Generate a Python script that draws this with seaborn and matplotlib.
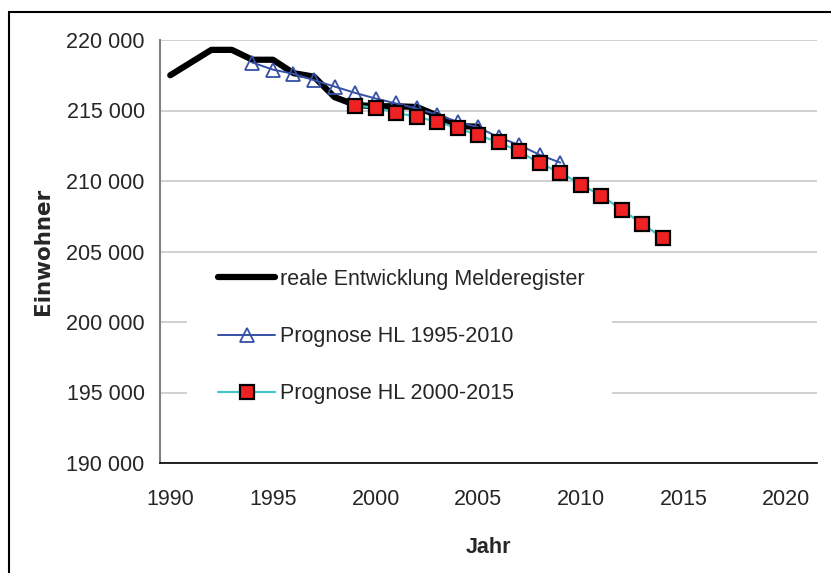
import pandas as pd
import matplotlib
matplotlib.use("Agg")
import matplotlib.pyplot as plt
import seaborn as sns
from matplotlib.patches import Rectangle

# Daten
jahre_real = [1990, 1991, 1992, 1993, 1994, 1995, 1996, 1997, 1998, 1999,
              2000, 2001, 2002, 2003, 2004, 2005]
einw_real = [217500, 218400, 219300, 219300, 218600, 218600, 217650, 217400, 215950, 215400,
             215300, 215300, 215250, 214650, 213900, 213850]

jahre_p1995 = list(range(1994, 2010))
einw_p1995 = [218400, 217900, 217600, 217150, 216700, 216250, 215850, 215500,
              215150, 214700, 214200, 213800, 213100, 212550, 211850, 211300]

jahre_p2000 = list(range(1999, 2015))
einw_p2000 = [215350, 215200, 214850, 214550, 214200, 213750, 213250, 212750,
              212100, 211250, 210600, 209750, 208950, 207950, 206950, 205950]

label_real = "reale Entwicklung Melderegister"
label_p1995 = "Prognose HL 1995-2010"
label_p2000 = "Prognose HL 2000-2015"

y_ticks = [190000, 195000, 200000, 205000, 210000, 215000, 220000]
x_labels = [1990, 1995, 2000, 2005, 2010, 2015, 2020]

df_real = pd.DataFrame({"Jahr": jahre_real, "Einwohner": einw_real})
df_p1 = pd.DataFrame({"Jahr": jahre_p1995, "Einwohner": einw_p1995})
df_p2 = pd.DataFrame({"Jahr": jahre_p2000, "Einwohner": einw_p2000})

sns.set_style("white")
plt.rcParams["font.family"] = ["Liberation Sans", "DejaVu Sans"]

fig = plt.figure(figsize=(8.31, 5.73), dpi=100)
ax = fig.add_axes([160 / 831, 1 - 463 / 573, 657 / 831, 423 / 573])

sns.lineplot(data=df_real, x="Jahr", y="Einwohner", ax=ax, color="black",
             linewidth=4.5, label=label_real, zorder=3)
sns.lineplot(data=df_p1, x="Jahr", y="Einwohner", ax=ax, color="#3550a5",
             linewidth=1.4, marker="^", markersize=10, markerfacecolor="none",
             markeredgecolor="#3550a5", markeredgewidth=1.3, label=label_p1995, zorder=4)
sns.lineplot(data=df_p2, x="Jahr", y="Einwohner", ax=ax, color="#45c6c6",
             linewidth=1.6, marker="s", markersize=10, markerfacecolor="#ee2222",
             markeredgecolor="black", markeredgewidth=1.6, label=label_p2000, zorder=5)

ax.set_xlim(1989.5, 2021.5)
ax.set_ylim(190000, 220000)
ax.set_yticks(y_ticks)
ax.set_yticklabels([f"{v:,}".replace(",", " ") for v in y_ticks], fontsize=15.5)
ax.yaxis.grid(True, color="#c8c8c8", linewidth=1.2)
ax.set_axisbelow(True)

# Kategorie-Achse: Striche zwischen den Jahren, Beschriftung mittig
ax.set_xticks([j + 0.5 for j in range(1989, 2022)], minor=True)
ax.set_xticks(x_labels)
ax.set_xticklabels([str(j) for j in x_labels], fontsize=15.5)
ax.tick_params(axis="x", which="major", length=0, pad=19)
ax.tick_params(axis="x", which="minor", length=4, width=1, color="black", direction="out")
ax.tick_params(axis="y", length=4, width=1, color="#606060", direction="out", pad=7)

for s in ["top", "right"]:
    ax.spines[s].set_visible(False)
ax.spines["left"].set_color("#808080")
ax.spines["left"].set_linewidth(1.5)
ax.spines["bottom"].set_color("black")
ax.spines["bottom"].set_linewidth(1.2)

ax.set_xlabel("Jahr", fontsize=15.5, fontweight="bold")
ax.xaxis.set_label_coords(0.5, -(537 - 463) / 423)
ax.set_ylabel("Einwohner", fontsize=15.5, fontweight="bold", family="DejaVu Sans")
ax.yaxis.set_label_coords(-(160 - 53) / 657, 0.5)

# weisser Hintergrund der Legende (unterbricht die Gitterlinien)
ax.add_patch(Rectangle(((187 - 160) / 657, (463 - 420) / 423), 425 / 657, 163 / 423,
                       transform=ax.transAxes, facecolor="white", edgecolor="none", zorder=2))

leg = ax.legend(loc="upper left", bbox_to_anchor=((218 - 160) / 657, (463 - 269) / 423),
                fontsize=15.5, handlelength=2.65, labelspacing=1.68, frameon=False,
                borderpad=0, borderaxespad=0, handletextpad=0.25)
leg.set_zorder(6)

fig.patches.append(Rectangle((9 / 831, -0.01), 0.995, 1 - 12 / 573 + 0.01,
                             transform=fig.transFigure, fill=False,
                             edgecolor="black", linewidth=1.5))

fig.savefig("out.png", dpi=100)
